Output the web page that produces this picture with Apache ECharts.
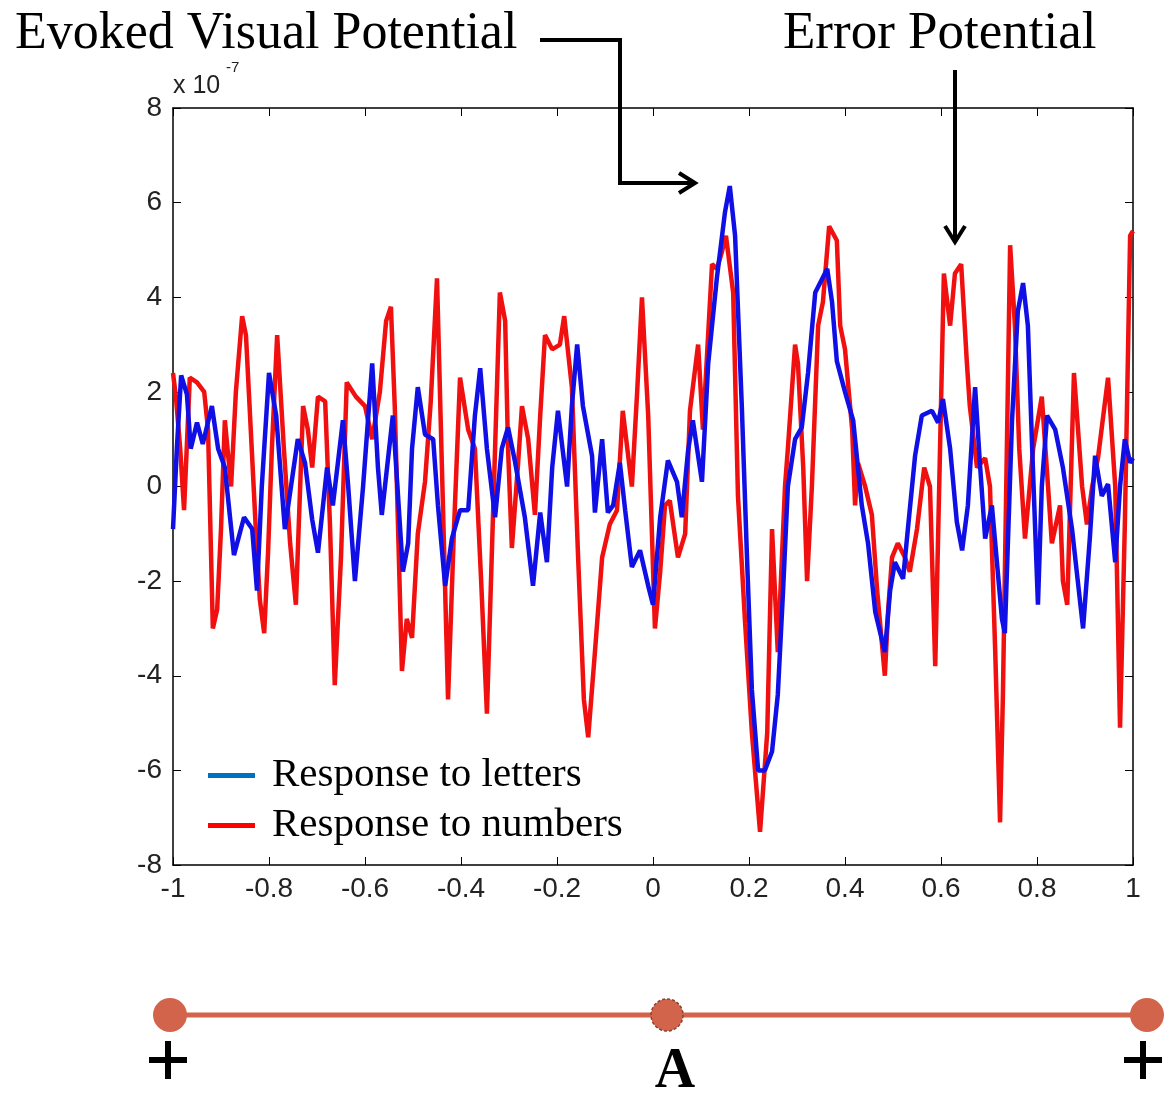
<!DOCTYPE html>
<html lang="en">
<head>
<meta charset="utf-8">
<title>ERP</title>
<script src="https://cdn.jsdelivr.net/npm/echarts@6/dist/echarts.min.js"></script>
<style>
    html, body { margin: 0; padding: 0; background: #fff; }
    #main { width: 1170px; height: 1094px; }
</style>
</head>
<body>
<div id="main"></div>
<script type="text/javascript">
    // time (s) and amplitude (x 1e-7)
    var lettersX = [-1.000, -0.992, -0.983, -0.971, -0.963, -0.950, -0.938, -0.919, -0.906, -0.892,
        -0.873, -0.852, -0.835, -0.825, -0.815, -0.800, -0.785, -0.767, -0.740, -0.725,
        -0.710, -0.698, -0.679, -0.667, -0.646, -0.635, -0.621, -0.604, -0.585, -0.573,
        -0.565, -0.542, -0.521, -0.510, -0.502, -0.490, -0.475, -0.458, -0.448, -0.433,
        -0.419, -0.402, -0.385, -0.371, -0.360, -0.346, -0.329, -0.315, -0.302, -0.288,
        -0.267, -0.250, -0.235, -0.221, -0.210, -0.198, -0.179, -0.169, -0.158, -0.146,
        -0.127, -0.121, -0.106, -0.094, -0.083, -0.069, -0.058, -0.044, -0.027, -0.010,
        0.000, 0.015, 0.031, 0.050, 0.060, 0.073, 0.083, 0.102, 0.115, 0.133,
        0.150, 0.160, 0.171, 0.185, 0.196, 0.206, 0.219, 0.233, 0.248, 0.260,
        0.271, 0.281, 0.296, 0.310, 0.323, 0.338, 0.363, 0.373, 0.383, 0.400,
        0.417, 0.435, 0.448, 0.463, 0.483, 0.494, 0.504, 0.521, 0.531, 0.546,
        0.560, 0.581, 0.594, 0.604, 0.619, 0.633, 0.644, 0.656, 0.671, 0.681,
        0.692, 0.706, 0.727, 0.733, 0.748, 0.760, 0.771, 0.781, 0.790, 0.802,
        0.810, 0.821, 0.838, 0.854, 0.873, 0.885, 0.896, 0.910, 0.921, 0.935,
        0.948, 0.963, 0.973, 0.983, 0.994, 1.000];
    var lettersY = [-0.9, 0.8, 2.35, 1.95, 0.8, 1.35, 0.9, 1.7, 0.8, 0.4,
        -1.45, -0.65, -0.9, -2.2, 0.0, 2.4, 1.5, -0.9, 1.0, 0.5,
        -0.7, -1.4, 0.4, -0.4, 1.4, 0.0, -2.0, 0.0, 2.6, 0.4,
        -0.6, 1.5, -1.8, -1.2, 0.8, 2.1, 1.1, 1.0, -0.4, -2.1,
        -1.1, -0.5, -0.5, 1.5, 2.5, 0.8, -0.65, 0.8, 1.25, 0.55,
        -0.65, -2.1, -0.55, -1.6, 0.4, 1.6, 0.0, 1.7, 3.0, 1.7,
        0.65, -0.55, 1.0, -0.55, -0.4, 0.5, -0.5, -1.7, -1.35, -2.1,
        -2.5, -0.65, 0.55, 0.1, -0.65, 0.75, 1.4, 0.1, 2.6, 4.4,
        5.8, 6.35, 5.3, 1.7, -1.55, -4.3, -6.0, -6.0, -5.6, -4.4,
        -2.2, 0.0, 1.0, 1.25, 2.4, 4.1, 4.6, 3.9, 2.65, 2.0,
        1.4, -0.4, -1.2, -2.65, -3.5, -2.2, -1.6, -1.95, -0.9, 0.65,
        1.5, 1.6, 1.35, 1.85, 0.8, -0.75, -1.35, -0.4, 2.1, 0.5,
        -1.1, -0.4, -2.8, -3.1, 1.4, 3.7, 4.3, 3.4, 0.8, -2.5,
        0.0, 1.5, 1.2, 0.4, -0.9, -2.0, -3.0, -1.1, 0.65, -0.2,
        0.05, -1.6, 0.0, 1.0, 0.5, 0.6];

    var numbersX = [-1.000, -0.994, -0.985, -0.977, -0.965, -0.950, -0.935, -0.927, -0.917, -0.908,
        -0.900, -0.892, -0.879, -0.869, -0.856, -0.848, -0.838, -0.827, -0.819, -0.810,
        -0.802, -0.794, -0.783, -0.769, -0.756, -0.744, -0.729, -0.719, -0.710, -0.698,
        -0.683, -0.673, -0.663, -0.650, -0.638, -0.619, -0.600, -0.585, -0.569, -0.556,
        -0.546, -0.538, -0.523, -0.513, -0.502, -0.490, -0.475, -0.463, -0.450, -0.440,
        -0.427, -0.415, -0.402, -0.385, -0.371, -0.358, -0.346, -0.333, -0.319, -0.308,
        -0.302, -0.294, -0.281, -0.273, -0.260, -0.246, -0.235, -0.225, -0.210, -0.194,
        -0.185, -0.169, -0.156, -0.144, -0.135, -0.121, -0.106, -0.090, -0.075, -0.063,
        -0.044, -0.033, -0.023, -0.010, 0.004, 0.015, 0.025, 0.035, 0.052, 0.067,
        0.077, 0.094, 0.104, 0.123, 0.133, 0.142, 0.152, 0.167, 0.177, 0.192,
        0.206, 0.223, 0.238, 0.248, 0.260, 0.275, 0.281, 0.296, 0.302, 0.313,
        0.321, 0.331, 0.344, 0.354, 0.367, 0.383, 0.390, 0.400, 0.415, 0.421,
        0.427, 0.442, 0.456, 0.467, 0.483, 0.490, 0.498, 0.510, 0.525, 0.535,
        0.550, 0.565, 0.577, 0.588, 0.598, 0.606, 0.619, 0.629, 0.642, 0.654,
        0.660, 0.675, 0.692, 0.702, 0.713, 0.723, 0.729, 0.744, 0.754, 0.763,
        0.775, 0.792, 0.810, 0.823, 0.831, 0.848, 0.854, 0.863, 0.877, 0.894,
        0.904, 0.915, 0.927, 0.948, 0.963, 0.973, 0.983, 0.994, 1.000];
    var numbersY = [2.4, 1.9, 0.8, -0.5, 2.3, 2.2, 2.0, 1.2, -3.0, -2.6,
        -0.9, 1.4, 0.0, 2.0, 3.6, 3.2, 1.2, -1.0, -2.4, -3.1,
        -1.4, 0.8, 3.2, 0.8, -1.2, -2.5, 1.7, 1.2, 0.4, 1.9,
        1.8, -0.8, -4.2, -1.5, 2.2, 1.9, 1.7, 1.0, 2.0, 3.5,
        3.8, 1.7, -3.9, -2.8, -3.2, -1.0, 0.1, 1.8, 4.4, 0.5,
        -4.5, -1.0, 2.3, 1.2, 0.8, -2.0, -4.8, -0.5, 4.1, 3.5,
        0.8, -1.3, 0.5, 1.7, 1.0, -0.6, 1.5, 3.2, 2.9, 3.0,
        3.6, 2.1, -1.5, -4.5, -5.3, -3.5, -1.5, -0.8, -0.5, 1.6,
        0.0, 2.0, 4.0, 1.5, -3.0, -1.8, -0.4, -0.3, -1.5, -1.0,
        1.6, 3.0, 1.2, 4.7, 4.6, 4.9, 5.3, 4.1, -0.2, -2.9,
        -5.2, -7.3, -5.2, -0.9, -3.5, 0.0, 0.8, 3.0, 2.6, 0.4,
        -2.0, 0.0, 3.4, 3.9, 5.5, 5.2, 3.4, 2.9, 1.2, -0.4,
        0.5, 0.0, -0.6, -2.2, -4.0, -2.6, -1.5, -1.2, -1.5, -1.8,
        -0.9, 0.4, 0.0, -3.8, 0.8, 4.5, 3.4, 4.5, 4.7, 2.6,
        1.7, 0.4, 0.6, 0.0, -3.5, -7.1, -4.4, 5.1, 3.4, 0.8,
        -1.1, 0.8, 1.9, 0.0, -1.2, -0.4, -2.0, -2.5, 2.4, 0.0,
        -0.8, 0.0, 0.6, 2.3, 0.0, -5.1, -0.8, 5.3, 5.4];

    function pairs(xs, ys) {
        var out = [];
        for (var i = 0; i < xs.length; i++) {
            out.push([xs[i], ys[i]]);
        }
        return out;
    }

    var myChart = echarts.init(document.getElementById('main'));

    var sans = '"Liberation Sans", Arial, sans-serif';
    var serif = '"Liberation Serif", "Times New Roman", serif';
    var rust = '#D2644B';

    function axisBase(pos, showLabel) {
        return {
            type: 'value',
            position: pos,
            axisLine: { onZero: false, lineStyle: { color: '#000', width: 1.5 } },
            axisTick: { inside: true, length: 8, lineStyle: { color: '#000', width: 1 } },
            axisLabel: { show: showLabel, color: '#222', fontFamily: sans, fontSize: 28 },
            splitLine: { show: false }
        };
    }

    var xBottom = axisBase('bottom', true);
    xBottom.min = -1; xBottom.max = 1; xBottom.interval = 0.2;
    xBottom.axisLabel.margin = 10;
    xBottom.axisLabel.formatter = function (v) { return String(+v.toFixed(1)); };
    var xTop = axisBase('top', false);
    xTop.min = -1; xTop.max = 1; xTop.interval = 0.2;

    var yLeft = axisBase('left', true);
    yLeft.min = -8; yLeft.max = 8; yLeft.interval = 2;
    yLeft.axisLabel.margin = 11;
    var yRight = axisBase('right', false);
    yRight.min = -8; yRight.max = 8; yRight.interval = 2;

    option = {
        animation: false,
        backgroundColor: '#fff',
        grid: { left: 173, right: 37, top: 108, bottom: 229 },
        xAxis: [xBottom, xTop],
        yAxis: [yLeft, yRight],
        legend: {
            orient: 'vertical',
            left: 203,
            top: 750,
            icon: 'rect',
            itemWidth: 47,
            itemHeight: 5,
            itemGap: 9,
            textStyle: { fontFamily: serif, fontSize: 41, lineHeight: 40, color: '#000', padding: [0, 0, 0, 12] },
            data: [
                { name: 'Response to letters', itemStyle: { color: '#0070C0' } },
                { name: 'Response to numbers', itemStyle: { color: '#FF0000' } }
            ]
        },
        series: [{
            name: 'Response to numbers',
            type: 'line',
            showSymbol: false,
            symbol: 'none',
            lineStyle: { color: '#F01010', width: 4.5 },
            itemStyle: { color: '#F01010' },
            data: pairs(numbersX, numbersY)
        }, {
            name: 'Response to letters',
            type: 'line',
            showSymbol: false,
            symbol: 'none',
            lineStyle: { color: '#1010E6', width: 4.5 },
            itemStyle: { color: '#1010E6' },
            data: pairs(lettersX, lettersY)
        }],
        graphic: [
            // annotations
            { type: 'text', x: 15, y: 34, style: { text: 'Evoked Visual Potential', font: '52px ' + serif, fill: '#000', verticalAlign: 'middle' } },
            { type: 'text', x: 783, y: 34, style: { text: 'Error Potential', font: '53px ' + serif, fill: '#000', verticalAlign: 'middle' } },
            { type: 'polyline', shape: { points: [[540, 40], [620, 40], [620, 183], [694, 183]] }, style: { stroke: '#000', lineWidth: 4, fill: null } },
            { type: 'polyline', shape: { points: [[679, 173], [695, 183], [679, 193]] }, style: { stroke: '#000', lineWidth: 4, fill: null } },
            { type: 'line', shape: { x1: 955, y1: 70, x2: 955, y2: 241 }, style: { stroke: '#000', lineWidth: 4 } },
            { type: 'polyline', shape: { points: [[945, 226], [955, 242], [965, 226]] }, style: { stroke: '#000', lineWidth: 4, fill: null } },
            // exponent label
            { type: 'text', x: 173, y: 86, style: { text: 'x 10', font: '25px ' + sans, fill: '#222', verticalAlign: 'middle' } },
            { type: 'text', x: 226, y: 68, style: { text: '-7', font: '15px ' + sans, fill: '#222', verticalAlign: 'middle' } },
            // electrode line
            { type: 'line', shape: { x1: 170, y1: 1015, x2: 1147, y2: 1015 }, style: { stroke: rust, lineWidth: 5 } },
            { type: 'circle', shape: { cx: 170, cy: 1015, r: 17 }, style: { fill: rust } },
            { type: 'circle', shape: { cx: 667, cy: 1015, r: 16 }, style: { fill: rust, stroke: '#8E3F2E', lineWidth: 1.5, lineDash: [3, 2] } },
            { type: 'circle', shape: { cx: 1147, cy: 1015, r: 17 }, style: { fill: rust } },
            { type: 'line', shape: { x1: 149, y1: 1060, x2: 187, y2: 1060 }, style: { stroke: '#000', lineWidth: 6 } },
            { type: 'line', shape: { x1: 168, y1: 1041, x2: 168, y2: 1079 }, style: { stroke: '#000', lineWidth: 6 } },
            { type: 'line', shape: { x1: 1124, y1: 1060, x2: 1162, y2: 1060 }, style: { stroke: '#000', lineWidth: 6 } },
            { type: 'line', shape: { x1: 1143, y1: 1041, x2: 1143, y2: 1079 }, style: { stroke: '#000', lineWidth: 6 } },
            { type: 'text', x: 675, y: 1073, style: { text: 'A', font: 'bold 56px ' + serif, fill: '#000', align: 'center', verticalAlign: 'middle' } }
        ]
    };

    myChart.setOption(option);
</script>
</body>
</html>
